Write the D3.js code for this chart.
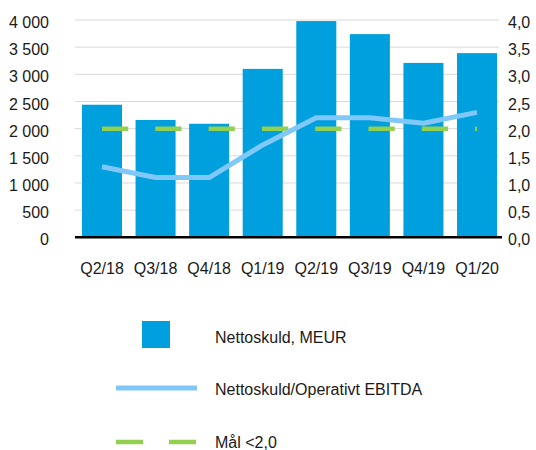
<!DOCTYPE html>
<html><head><meta charset="utf-8">
<script src="https://cdn.jsdelivr.net/npm/d3@7"></script>
<style>body{margin:0;background:#fff}svg{display:block}text{font-family:"Liberation Sans",Arial,sans-serif;fill:#1a1a1a}</style>
</head><body><svg id="c" width="536" height="450"></svg>
<script>
const categories = ["Q2/18","Q3/18","Q4/18","Q1/19","Q2/19","Q3/19","Q4/19","Q1/20"];
const nettoskuld = [2440, 2160, 2090, 3100, 3980, 3740, 3210, 3390];
const ratio = [1.3, 1.1, 1.1, 1.7, 2.2, 2.2, 2.1, 2.3];
const target = [2.0, 2.0, 2.0, 2.0, 2.0, 2.0, 2.0, 2.0];
const leftTicks = [0,500,1000,1500,2000,2500,3000,3500,4000];
const rightTicks = [0,0.5,1,1.5,2,2.5,3,3.5,4];
const legendLabels = ["Nettoskuld, MEUR","Nettoskuld/Operativt EBITDA","Mål <2,0"];

const svg = d3.select("#c");
const L = 75, R = 499, T = 20, B = 237.3;
const FS = "16px";
const x = d3.scaleBand().domain(categories).range([75.2, 503.8]).paddingInner(0.253).paddingOuter(0.1265);
const xc = d => x(d) + x.bandwidth()/2;
const yL = d3.scaleLinear().domain([0,4000]).range([B,T]);
const yR = d3.scaleLinear().domain([0,4]).range([B,T]);
const fmtL = d => d3.format(",")(d).replace(/,/g," ");
const fmtR = d => d3.format(".1f")(d).replace(".",",");

// gridlines
svg.append("g").selectAll("line").data(leftTicks.slice(1)).join("line")
  .attr("x1",L).attr("x2",R).attr("y1",d=>yL(d)).attr("y2",d=>yL(d))
  .attr("stroke","#d9d9d9").attr("stroke-width",1);

// left axis
const gl = svg.append("g").attr("transform",`translate(${L},0)`)
  .call(d3.axisLeft(yL).tickValues(leftTicks).tickFormat(fmtL).tickSize(0).tickPadding(26));
gl.select(".domain").remove();
gl.selectAll("text").style("font-size",FS).style("font-family","Liberation Sans, Arial, sans-serif").attr("fill","#1a1a1a").attr("dy","0.35em").attr("y",2);

// right axis
const gr = svg.append("g").attr("transform",`translate(${R},0)`)
  .call(d3.axisRight(yR).tickValues(rightTicks).tickFormat(fmtR).tickSize(0).tickPadding(9));
gr.select(".domain").remove();
gr.selectAll("text").style("font-size",FS).style("font-family","Liberation Sans, Arial, sans-serif").attr("fill","#1a1a1a").attr("dy","0.35em").attr("y",2);

// bars
svg.append("g").selectAll("rect").data(nettoskuld).join("rect")
  .attr("x",(d,i)=>x(categories[i])).attr("width",x.bandwidth())
  .attr("y",d=>yL(d)).attr("height",d=>B-yL(d)).attr("fill","#009fde");

// baseline
svg.append("line").attr("x1",L).attr("x2",R+3).attr("y1",B).attr("y2",B).attr("stroke","#000").attr("stroke-width",2.5);

// x axis labels
const gx = svg.append("g").attr("transform",`translate(0,${B})`)
  .call(d3.axisBottom(x).tickSize(0).tickPadding(25));
gx.select(".domain").remove();
gx.selectAll("text").style("font-size",FS).style("font-family","Liberation Sans, Arial, sans-serif").attr("fill","#1a1a1a");

// target dashed line
const tline = d3.line().x((d,i)=>xc(categories[i])).y(d=>yR(d));
svg.append("path").datum(target).attr("d",tline).attr("fill","none")
  .attr("stroke","#92d050").attr("stroke-width",4.5).attr("stroke-dasharray","26.3,27");

// ratio line
const rline = d3.line().x((d,i)=>xc(categories[i])).y(d=>yR(d));
svg.append("path").datum(ratio).attr("d",rline).attr("fill","none")
  .attr("stroke","#80c8fa").attr("stroke-width",5).attr("stroke-linejoin","round");

// legend
const lg = svg.append("g");
lg.append("rect").attr("x",142).attr("y",321).attr("width",28).attr("height",27).attr("fill","#009fde");
lg.append("line").attr("x1",116).attr("x2",197).attr("y1",388).attr("y2",388).attr("stroke","#80c8fa").attr("stroke-width",5);
lg.append("line").attr("x1",116).attr("x2",197).attr("y1",442).attr("y2",442).attr("stroke","#92d050").attr("stroke-width",4.5).attr("stroke-dasharray","27,26");
lg.selectAll("text").data(legendLabels).join("text")
  .attr("x",215).attr("y",(d,i)=>[337,389.4,442.5][i]).attr("dy","0.35em")
  .style("font-size",FS).text(d=>d);
</script></body></html>
